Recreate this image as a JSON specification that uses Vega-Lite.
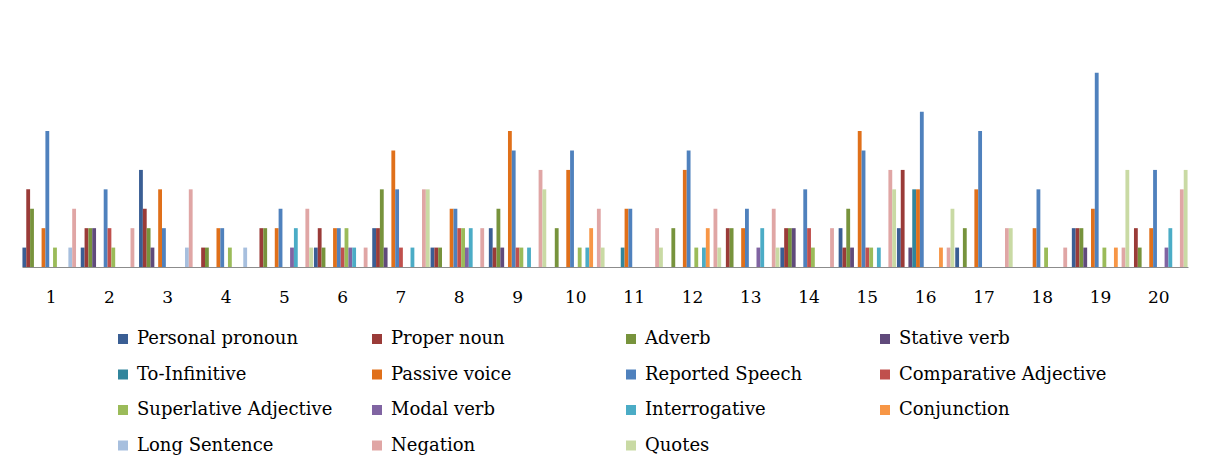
{
  "$schema": "https://vega.github.io/schema/vega-lite/v6.json",
  "width": 1166,
  "height": 233,
  "autosize": "none",
  "padding": {"left": 22, "top": 34, "right": 18, "bottom": 198},
  "background": "white",
  "config": {"view": {"stroke": null}},
  "datasets": {
    "counts": [
      {"group": 1, "series": "Personal pronoun", "value": 1},
      {"group": 1, "series": "Proper noun", "value": 4},
      {"group": 1, "series": "Adverb", "value": 3},
      {"group": 1, "series": "Passive voice", "value": 2},
      {"group": 1, "series": "Reported Speech", "value": 7},
      {"group": 1, "series": "Superlative Adjective", "value": 1},
      {"group": 1, "series": "Long Sentence", "value": 1},
      {"group": 1, "series": "Negation", "value": 3},

      {"group": 2, "series": "Personal pronoun", "value": 1},
      {"group": 2, "series": "Proper noun", "value": 2},
      {"group": 2, "series": "Adverb", "value": 2},
      {"group": 2, "series": "Stative verb", "value": 2},
      {"group": 2, "series": "Reported Speech", "value": 4},
      {"group": 2, "series": "Comparative Adjective", "value": 2},
      {"group": 2, "series": "Superlative Adjective", "value": 1},
      {"group": 2, "series": "Negation", "value": 2},

      {"group": 3, "series": "Personal pronoun", "value": 5},
      {"group": 3, "series": "Proper noun", "value": 3},
      {"group": 3, "series": "Adverb", "value": 2},
      {"group": 3, "series": "Stative verb", "value": 1},
      {"group": 3, "series": "Passive voice", "value": 4},
      {"group": 3, "series": "Reported Speech", "value": 2},
      {"group": 3, "series": "Long Sentence", "value": 1},
      {"group": 3, "series": "Negation", "value": 4},

      {"group": 4, "series": "Proper noun", "value": 1},
      {"group": 4, "series": "Adverb", "value": 1},
      {"group": 4, "series": "Passive voice", "value": 2},
      {"group": 4, "series": "Reported Speech", "value": 2},
      {"group": 4, "series": "Superlative Adjective", "value": 1},
      {"group": 4, "series": "Long Sentence", "value": 1},

      {"group": 5, "series": "Proper noun", "value": 2},
      {"group": 5, "series": "Adverb", "value": 2},
      {"group": 5, "series": "Passive voice", "value": 2},
      {"group": 5, "series": "Reported Speech", "value": 3},
      {"group": 5, "series": "Modal verb", "value": 1},
      {"group": 5, "series": "Interrogative", "value": 2},
      {"group": 5, "series": "Negation", "value": 3},
      {"group": 5, "series": "Quotes", "value": 1},

      {"group": 6, "series": "Personal pronoun", "value": 1},
      {"group": 6, "series": "Proper noun", "value": 2},
      {"group": 6, "series": "Adverb", "value": 1},
      {"group": 6, "series": "Passive voice", "value": 2},
      {"group": 6, "series": "Reported Speech", "value": 2},
      {"group": 6, "series": "Comparative Adjective", "value": 1},
      {"group": 6, "series": "Superlative Adjective", "value": 2},
      {"group": 6, "series": "Modal verb", "value": 1},
      {"group": 6, "series": "Interrogative", "value": 1},
      {"group": 6, "series": "Negation", "value": 1},

      {"group": 7, "series": "Personal pronoun", "value": 2},
      {"group": 7, "series": "Proper noun", "value": 2},
      {"group": 7, "series": "Adverb", "value": 4},
      {"group": 7, "series": "Stative verb", "value": 1},
      {"group": 7, "series": "Passive voice", "value": 6},
      {"group": 7, "series": "Reported Speech", "value": 4},
      {"group": 7, "series": "Comparative Adjective", "value": 1},
      {"group": 7, "series": "Interrogative", "value": 1},
      {"group": 7, "series": "Negation", "value": 4},
      {"group": 7, "series": "Quotes", "value": 4},

      {"group": 8, "series": "Personal pronoun", "value": 1},
      {"group": 8, "series": "Proper noun", "value": 1},
      {"group": 8, "series": "Adverb", "value": 1},
      {"group": 8, "series": "Passive voice", "value": 3},
      {"group": 8, "series": "Reported Speech", "value": 3},
      {"group": 8, "series": "Comparative Adjective", "value": 2},
      {"group": 8, "series": "Superlative Adjective", "value": 2},
      {"group": 8, "series": "Modal verb", "value": 1},
      {"group": 8, "series": "Interrogative", "value": 2},
      {"group": 8, "series": "Negation", "value": 2},

      {"group": 9, "series": "Personal pronoun", "value": 2},
      {"group": 9, "series": "Proper noun", "value": 1},
      {"group": 9, "series": "Adverb", "value": 3},
      {"group": 9, "series": "Stative verb", "value": 1},
      {"group": 9, "series": "Passive voice", "value": 7},
      {"group": 9, "series": "Reported Speech", "value": 6},
      {"group": 9, "series": "Comparative Adjective", "value": 1},
      {"group": 9, "series": "Superlative Adjective", "value": 1},
      {"group": 9, "series": "Interrogative", "value": 1},
      {"group": 9, "series": "Negation", "value": 5},
      {"group": 9, "series": "Quotes", "value": 4},

      {"group": 10, "series": "Adverb", "value": 2},
      {"group": 10, "series": "Passive voice", "value": 5},
      {"group": 10, "series": "Reported Speech", "value": 6},
      {"group": 10, "series": "Superlative Adjective", "value": 1},
      {"group": 10, "series": "Interrogative", "value": 1},
      {"group": 10, "series": "Conjunction", "value": 2},
      {"group": 10, "series": "Negation", "value": 3},
      {"group": 10, "series": "Quotes", "value": 1},

      {"group": 11, "series": "To-Infinitive", "value": 1},
      {"group": 11, "series": "Passive voice", "value": 3},
      {"group": 11, "series": "Reported Speech", "value": 3},
      {"group": 11, "series": "Negation", "value": 2},
      {"group": 11, "series": "Quotes", "value": 1},

      {"group": 12, "series": "Adverb", "value": 2},
      {"group": 12, "series": "Passive voice", "value": 5},
      {"group": 12, "series": "Reported Speech", "value": 6},
      {"group": 12, "series": "Superlative Adjective", "value": 1},
      {"group": 12, "series": "Interrogative", "value": 1},
      {"group": 12, "series": "Conjunction", "value": 2},
      {"group": 12, "series": "Negation", "value": 3},
      {"group": 12, "series": "Quotes", "value": 1},

      {"group": 13, "series": "Proper noun", "value": 2},
      {"group": 13, "series": "Adverb", "value": 2},
      {"group": 13, "series": "Passive voice", "value": 2},
      {"group": 13, "series": "Reported Speech", "value": 3},
      {"group": 13, "series": "Modal verb", "value": 1},
      {"group": 13, "series": "Interrogative", "value": 2},
      {"group": 13, "series": "Negation", "value": 3},
      {"group": 13, "series": "Quotes", "value": 1},

      {"group": 14, "series": "Personal pronoun", "value": 1},
      {"group": 14, "series": "Proper noun", "value": 2},
      {"group": 14, "series": "Adverb", "value": 2},
      {"group": 14, "series": "Stative verb", "value": 2},
      {"group": 14, "series": "Reported Speech", "value": 4},
      {"group": 14, "series": "Comparative Adjective", "value": 2},
      {"group": 14, "series": "Superlative Adjective", "value": 1},
      {"group": 14, "series": "Negation", "value": 2},

      {"group": 15, "series": "Personal pronoun", "value": 2},
      {"group": 15, "series": "Proper noun", "value": 1},
      {"group": 15, "series": "Adverb", "value": 3},
      {"group": 15, "series": "Stative verb", "value": 1},
      {"group": 15, "series": "Passive voice", "value": 7},
      {"group": 15, "series": "Reported Speech", "value": 6},
      {"group": 15, "series": "Comparative Adjective", "value": 1},
      {"group": 15, "series": "Superlative Adjective", "value": 1},
      {"group": 15, "series": "Interrogative", "value": 1},
      {"group": 15, "series": "Negation", "value": 5},
      {"group": 15, "series": "Quotes", "value": 4},

      {"group": 16, "series": "Personal pronoun", "value": 2},
      {"group": 16, "series": "Proper noun", "value": 5},
      {"group": 16, "series": "Stative verb", "value": 1},
      {"group": 16, "series": "To-Infinitive", "value": 4},
      {"group": 16, "series": "Passive voice", "value": 4},
      {"group": 16, "series": "Reported Speech", "value": 8},
      {"group": 16, "series": "Conjunction", "value": 1},
      {"group": 16, "series": "Negation", "value": 1},
      {"group": 16, "series": "Quotes", "value": 3},

      {"group": 17, "series": "Personal pronoun", "value": 1},
      {"group": 17, "series": "Adverb", "value": 2},
      {"group": 17, "series": "Passive voice", "value": 4},
      {"group": 17, "series": "Reported Speech", "value": 7},
      {"group": 17, "series": "Negation", "value": 2},
      {"group": 17, "series": "Quotes", "value": 2},

      {"group": 18, "series": "Passive voice", "value": 2},
      {"group": 18, "series": "Reported Speech", "value": 4},
      {"group": 18, "series": "Superlative Adjective", "value": 1},
      {"group": 18, "series": "Negation", "value": 1},

      {"group": 19, "series": "Personal pronoun", "value": 2},
      {"group": 19, "series": "Proper noun", "value": 2},
      {"group": 19, "series": "Adverb", "value": 2},
      {"group": 19, "series": "Stative verb", "value": 1},
      {"group": 19, "series": "Passive voice", "value": 3},
      {"group": 19, "series": "Reported Speech", "value": 10},
      {"group": 19, "series": "Superlative Adjective", "value": 1},
      {"group": 19, "series": "Conjunction", "value": 1},
      {"group": 19, "series": "Negation", "value": 1},
      {"group": 19, "series": "Quotes", "value": 5},

      {"group": 20, "series": "Proper noun", "value": 2},
      {"group": 20, "series": "Adverb", "value": 1},
      {"group": 20, "series": "Passive voice", "value": 2},
      {"group": 20, "series": "Reported Speech", "value": 5},
      {"group": 20, "series": "Modal verb", "value": 1},
      {"group": 20, "series": "Interrogative", "value": 2},
      {"group": 20, "series": "Negation", "value": 4},
      {"group": 20, "series": "Quotes", "value": 5}
    ]
  },
  "data": {"name": "counts"},
  "mark": {"type": "bar"},
  "encoding": {
    "x": {
      "field": "group",
      "type": "ordinal",
      "scale": {"paddingInner": 0.015, "paddingOuter": 0.0075},
      "axis": {
        "title": null,
        "labelAngle": 0,
        "ticks": false,
        "grid": false,
        "domainColor": "#8c8c8c",
        "domainWidth": 1,
        "labelFont": "DejaVu Serif",
        "labelFontSize": 17,
        "labelColor": "#000000",
        "labelPadding": 22
      }
    },
    "xOffset": {
      "field": "series",
      "type": "nominal",
      "scale": {
        "domain": ["Personal pronoun", "Proper noun", "Adverb", "Stative verb", "To-Infinitive", "Passive voice", "Reported Speech", "Comparative Adjective", "Superlative Adjective", "Modal verb", "Interrogative", "Conjunction", "Long Sentence", "Negation", "Quotes"],
        "paddingInner": 0,
        "paddingOuter": 0
      }
    },
    "y": {
      "field": "value",
      "type": "quantitative",
      "scale": {"domain": [0, 12]},
      "axis": null
    },
    "color": {
      "field": "series",
      "type": "nominal",
      "scale": {
        "domain": ["Personal pronoun", "Proper noun", "Adverb", "Stative verb", "To-Infinitive", "Passive voice", "Reported Speech", "Comparative Adjective", "Superlative Adjective", "Modal verb", "Interrogative", "Conjunction", "Long Sentence", "Negation", "Quotes"],
        "range": ["#3A5E94", "#9A3B38", "#77933C", "#604A7B", "#31859C", "#E0701A", "#4F81BD", "#C0504D", "#9BBB59", "#8064A2", "#4BACC6", "#F79646", "#A7BFDE", "#E0A6A5", "#C9DAA4"]
      },
      "legend": {
        "title": null,
        "orient": "none",
        "legendX": 92,
        "legendY": 296,
        "direction": "horizontal",
        "columns": 4,
        "gridAlign": "all",
        "symbolType": "square",
        "symbolSize": 100,
        "symbolStrokeWidth": 0,
        "labelFont": "DejaVu Serif",
        "labelFontSize": 18,
        "labelColor": "#000000",
        "labelOffset": 5,
        "labelLimit": 320,
        "rowPadding": 17.5,
        "columnPadding": 23
      }
    }
  }
}
